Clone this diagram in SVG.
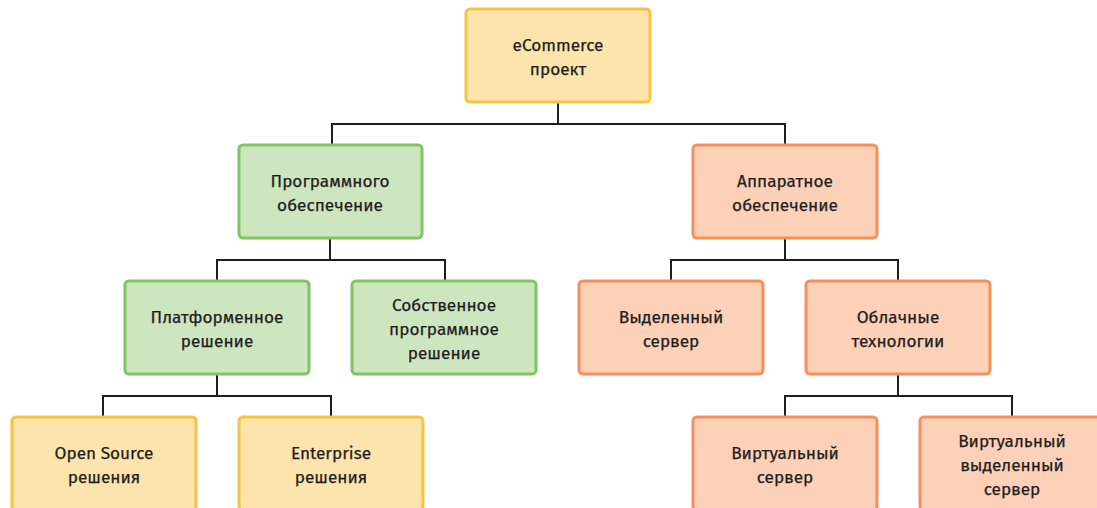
<svg xmlns="http://www.w3.org/2000/svg" width="1097" height="508" viewBox="0 0 1097 508">
<style>
.n rect{stroke-width:3}
.y rect{fill:#fde4ad;stroke:#f6c343}
.g rect{fill:#cde6c0;stroke:#80c463}
.o rect{fill:#fdd0b8;stroke:#f4905e}
text{font-family:"Fira Sans","Open Sans","Noto Sans",sans-serif;font-size:17.2px;fill:#1e1e1e;stroke:#1e1e1e;stroke-width:0.25;text-anchor:middle}
.c{fill:none;stroke:#1e1e1e;stroke-width:2}
</style>
<g id="connectors" class="c">
<path d="M558 102V124M332 145V124H785V145"/>
<path d="M330 238V260M217 281V260H445V281"/>
<path d="M785 238V260M671 281V260H898V281"/>
<path d="M217 374V396M103 417V396H331V417"/>
<path d="M898 374V396M785 417V396H1012V417"/>
</g>
<g id="n1" class="n y"><rect x="466" y="9" width="184" height="93" rx="4"/><text x="558" y="51">eCommerce</text><text x="558" y="75">проект</text></g>
<g id="n2" class="n g"><rect x="239" y="145" width="183" height="93" rx="4"/><text x="330" y="187">Программного</text><text x="330" y="211">обеспечение</text></g>
<g id="n3" class="n o"><rect x="693" y="145" width="184" height="93" rx="4"/><text x="785" y="187">Аппаратное</text><text x="785" y="211">обеспечение</text></g>
<g id="n4" class="n g"><rect x="125" y="281" width="184" height="93" rx="4"/><text x="217" y="323">Платформенное</text><text x="217" y="347">решение</text></g>
<g id="n5" class="n g"><rect x="352" y="281" width="184" height="93" rx="4"/><text x="444" y="311">Собственное</text><text x="444" y="335">программное</text><text x="444" y="359">решение</text></g>
<g id="n6" class="n o"><rect x="579" y="281" width="184" height="93" rx="4"/><text x="671" y="323">Выделенный</text><text x="671" y="347">сервер</text></g>
<g id="n7" class="n o"><rect x="806" y="281" width="184" height="93" rx="4"/><text x="898" y="323">Облачные</text><text x="898" y="347">технологии</text></g>
<g id="n8" class="n y"><rect x="12" y="417" width="184" height="93" rx="4"/><text x="104" y="459">Open Source</text><text x="104" y="483">решения</text></g>
<g id="n9" class="n y"><rect x="239" y="417" width="184" height="93" rx="4"/><text x="331" y="459">Enterprise</text><text x="331" y="483">решения</text></g>
<g id="n10" class="n o"><rect x="693" y="417" width="184" height="93" rx="4"/><text x="785" y="459">Виртуальный</text><text x="785" y="483">сервер</text></g>
<g id="n11" class="n o"><rect x="920" y="417" width="184" height="93" rx="4"/><text x="1012" y="447">Виртуальный</text><text x="1012" y="471">выделенный</text><text x="1012" y="495">сервер</text></g>
</svg>
